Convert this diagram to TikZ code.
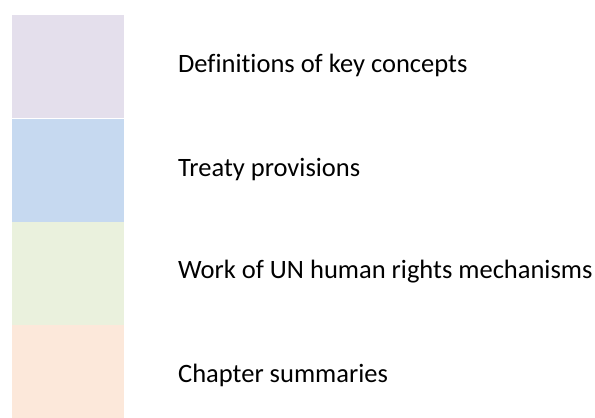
\documentclass[tikz,border=0pt]{standalone}
\usepackage{fontspec}
\setmainfont[Ligatures=NoCommon]{Carlito}
\usetikzlibrary{positioning}
\definecolor{defpurple}{HTML}{E4DFEC}
\definecolor{treblue}{HTML}{C6D9F0}
\definecolor{workgreen}{HTML}{EAF1DD}
\definecolor{chappeach}{HTML}{FCE8DA}
\begin{document}
\begin{tikzpicture}[x=1pt,y=-1pt, blk/.style={rectangle,inner sep=0pt,minimum width=112pt,minimum height=103pt,anchor=north west}, lbl/.style={anchor=base west,inner sep=0pt,font=\fontsize{26.5}{30}\selectfont}]
  \useasboundingbox (0,0) rectangle (595,418);
  \node[blk,fill=defpurple](d1) at (12,15){};
  \node[blk,fill=treblue,below=0pt of d1](d2){};
  \node[blk,fill=workgreen,below=0pt of d2](d3){};
  \node[blk,fill=chappeach,minimum height=94pt,below=0pt of d3](d4){};
  \node[lbl](l1) at (178,72){Definitions of key concepts};
  \node[lbl](l2) at (178,176){Treaty provisions};
  \node[lbl](l3) at (178,278){Work of UN human rights mechanisms};
  \node[lbl](l4) at (178,382){Chapter summaries};
\end{tikzpicture}
\end{document}
